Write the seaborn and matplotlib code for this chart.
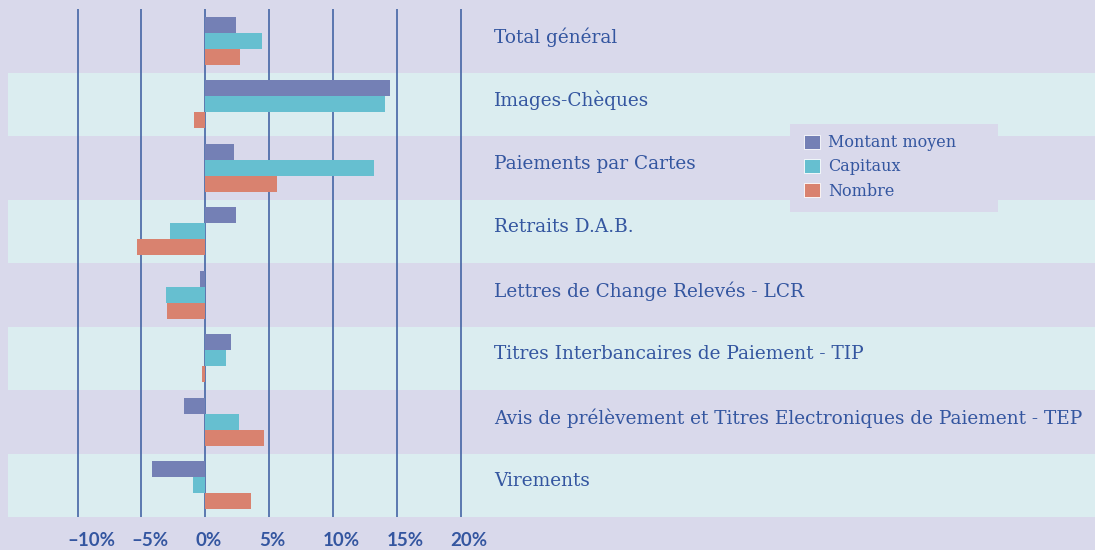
import matplotlib.pyplot as plt
import matplotlib.transforms as mtransforms
from matplotlib.patches import Rectangle
import pandas as pd
import seaborn as sns

# values (% change)
categories = ['Total général', 'Images-Chèques', 'Paiements par Cartes', 'Retraits D.A.B.',
              'Lettres de Change Relevés - LCR', 'Titres Interbancaires de Paiement - TIP',
              'Avis de prélèvement et Titres Electroniques de Paiement - TEP', 'Virements']
montant_moyen = [2.4, 14.46, 2.25, 2.4, -0.41, 2.01, -1.67, -4.17]
capitaux = [4.44, 14.07, 13.2, -2.76, -3.08, 1.62, 2.64, -0.96]
nombre = [2.72, -0.88, 5.61, -5.35, -3.0, -0.26, 4.6, 3.58]
series = ['Montant moyen', 'Capitaux', 'Nombre']
tick_values = [-10, -5, 0, 5, 10, 15, 20]
tick_labels = ['–10%', '–5%', '0%', '5%', '10%', '15%', '20%']

colors = ['#7480b5', '#66bfd0', '#d9826f']
bg = '#d9d9eb'
band = '#dbedf0'
text_col = '#3456a0'
line_col = '#4565a5'
serif = 'DejaVu Serif'

df = pd.DataFrame({'categorie': categories, series[0]: montant_moyen,
                   series[1]: capitaux, series[2]: nombre})
df = df.melt(id_vars='categorie', var_name='serie', value_name='valeur')

fig = plt.figure(figsize=(10.95, 5.5), dpi=100, facecolor=bg)
ax = fig.add_axes([8 / 1095, 33 / 550, 1087 / 1095, 508 / 550])
ax.set_facecolor(bg)

# alternating row bands
for i in range(len(categories)):
    if i % 2 == 1:
        ax.axhspan(i - 0.5, i + 0.5, color=band, zorder=0, lw=0)

for v in tick_values:
    ax.axvline(v, color=line_col, lw=1.2, zorder=1)

sns.barplot(data=df, y='categorie', x='valeur', hue='serie', hue_order=series,
            palette=colors, orient='h', width=0.75, saturation=1, linewidth=0,
            ax=ax, zorder=2)

ax.set_xlim(-15.45, 69.67)
ax.set_ylim(len(categories) - 0.5, -0.5)

for i, cat in enumerate(categories):
    ax.text(22.6, i - 0.06, cat, ha='left', va='center', fontsize=13.3,
            family=serif, color=text_col)

ax.set_yticks([])
ax.set_xticks([])
ax.set_xlabel('')
ax.set_ylabel('')
for s in ax.spines.values():
    s.set_visible(False)

# tick labels sit slightly left-aligned under each gridline
trans = mtransforms.blended_transform_factory(ax.transData, ax.transAxes) + \
    mtransforms.ScaledTranslation(-10 / 100, 0, fig.dpi_scale_trans)
for v, lab in zip(tick_values, tick_labels):
    ax.text(v, -0.047, lab, transform=trans, ha='left', va='center', fontsize=13.5,
            family='Lato', fontweight='bold', color=text_col, clip_on=False)

# legend box
ax.add_patch(Rectangle((790 / 1095, 1 - 212 / 550), 208 / 1095, 88 / 550,
                       transform=fig.transFigure, facecolor=bg, edgecolor='none',
                       zorder=5, clip_on=False))
leg = ax.legend(loc='upper left', bbox_to_anchor=(801 / 1095, 1 - 131 / 550),
                bbox_transform=fig.transFigure, frameon=False,
                prop={'family': serif, 'size': 11.5},
                handlelength=1.0, handleheight=1.0, handletextpad=0.5,
                labelspacing=0.45, borderpad=0.2, borderaxespad=0)
leg.set_zorder(6)
for h in leg.legend_handles:
    h.set_edgecolor('white')
    h.set_linewidth(0.6)
for t in leg.get_texts():
    t.set_color(text_col)

fig.savefig('out.png', dpi=100, facecolor=bg)
